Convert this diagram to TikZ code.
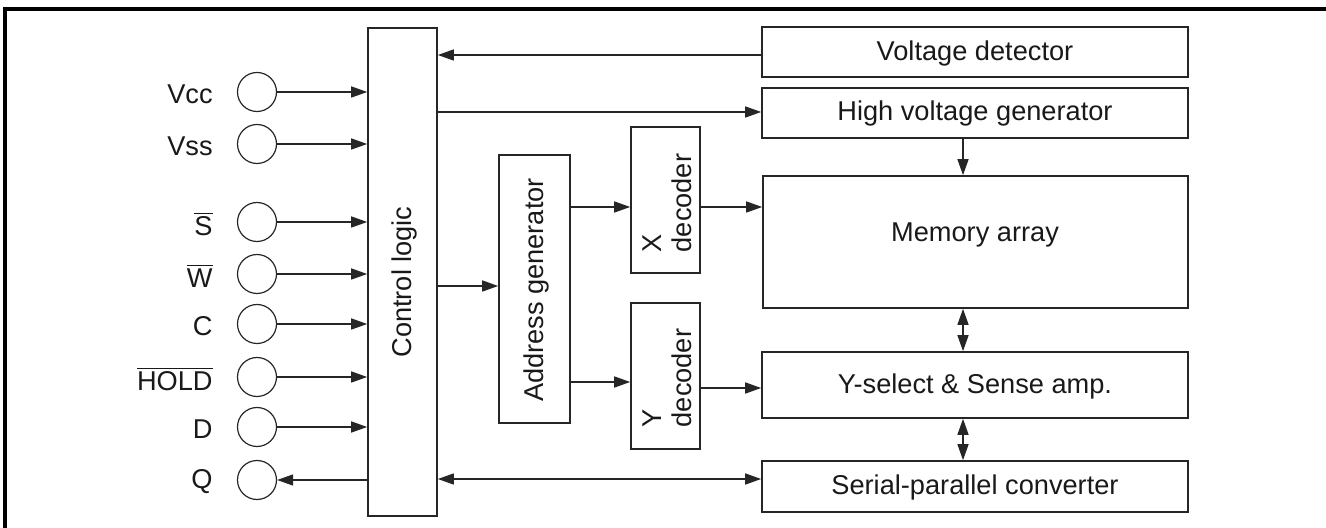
\documentclass[tikz,border=0pt]{standalone}
\usepackage{fontspec}
\setmainfont{Liberation Sans}
\usetikzlibrary{arrows.meta,fit}
\begin{document}
\begin{tikzpicture}[x=0.5pt,y=-0.5pt,
  every node/.style={font=\fontsize{13.6}{16}\selectfont, text=black!90},
  box/.style={draw=black!85, line width=0.8pt, inner sep=0pt},
  pin/.style={draw=black!85, line width=0.6pt, circle, minimum size=19.5pt, inner sep=0pt},
  lbl/.style={anchor=east, inner sep=0pt},
  arr/.style={draw=black!85, line width=0.7pt, -{Triangle[length=8pt,width=5.5pt]}},
  darr/.style={draw=black!85, line width=0.7pt, {Triangle[length=8pt,width=5.5pt]}-{Triangle[length=8pt,width=5.5pt]}}]
\useasboundingbox (0,0) rectangle (1326,528);
% frame
\draw[line width=1.6pt] (5,530) -- (5,9) -- (1330,9);
% blocks
\node[box, fit={(368,28)(437,516)}] (cl) {};
\node[rotate=90] (cltext) at (404,282) {Control logic};
\node[box, fit={(762,27)(1188,77)}] (vd) {};
\node (vdtext) at (975,53) {Voltage detector};
\node[box, fit={(762,88)(1188,138)}] (hvg) {};
\node (hvgtext) at (975,113) {High voltage generator};
\node[box, fit={(763,176)(1188,308)}] (ma) {};
\node (matext) at (975,235) {Memory array};
\node[box, fit={(762,352)(1188,418)}] (ys) {};
\node (ystext) at (975,386) {Y-select \& Sense amp.};
\node[box, fit={(762,461)(1188,512)}] (spc) {};
\node (spctext) at (975,487) {Serial-parallel converter};
\node[box, fit={(499,155)(570,423)}] (ag) {};
\node[rotate=90] (agtext) at (536,290) {Address generator};
\node[box, fit={(631,127)(700,273)}] (xd) {};
\node[rotate=90, align=left, font=\fontsize{13.6}{15}\selectfont] (xdtext) at (667,203) {X\\decoder};
\node[box, fit={(631,303)(700,449)}] (yd) {};
\node[rotate=90, align=left, font=\fontsize{13.6}{15}\selectfont] (ydtext) at (667,378) {Y\\decoder};
% pins
\node[pin] (vcc) at (257,92) {};
\node[pin] (vss) at (257,144) {};
\node[pin] (s) at (257,222) {};
\node[pin] (w) at (257,274) {};
\node[pin] (c) at (257,324) {};
\node[pin] (hold) at (257,377) {};
\node[pin] (d) at (257,427) {};
\node[pin] (q) at (257,480) {};
\node[lbl] (lvcc) at (213,94) {Vcc};
\node[lbl] (lvss) at (213,146) {Vss};
\node[lbl] (ls) at (213,224) {$\overline{\mbox{S}}$};
\node[lbl] (lw) at (213,276) {$\overline{\mbox{W}}$};
\node[lbl] (lc) at (213,326) {C};
\node[lbl] (lhold) at (213,379) {$\overline{\mbox{HOLD}}$};
\node[lbl] (ld) at (213,429) {D};
\node[lbl] (lq) at (213,482) {Q};
% pin arrows
\foreach \p in {vcc,vss,s,w,c,hold,d}
  \draw[arr] (\p.east) -- (\p.east -| cl.west);
\draw[arr] (q.east -| cl.west) -- (q.east);
% connections
\draw[arr] (vd.west |- 0,55) -- (cl.east |- 0,55);
\draw[arr] (cl.east |- 0,112) -- (hvg.west |- 0,112);
\draw[arr] (cl.east |- 0,286) -- (ag.west |- 0,286);
\draw[arr] (ag.east |- 0,207) -- (xd.west |- 0,207);
\draw[arr] (xd.east |- 0,207) -- (ma.west |- 0,207);
\draw[arr] (ag.east |- 0,382) -- (yd.west |- 0,382);
\draw[arr] (yd.east |- 0,388) -- (ys.west |- 0,388);
\draw[darr] (cl.east |- 0,479) -- (spc.west |- 0,479);
\draw[arr] (hvg.south -| 963,0) -- (ma.north -| 963,0);
\draw[darr] (ma.south -| 963,0) -- (ys.north -| 963,0);
\draw[darr] (ys.south -| 963,0) -- (spc.north -| 963,0);
\end{tikzpicture}
\end{document}
